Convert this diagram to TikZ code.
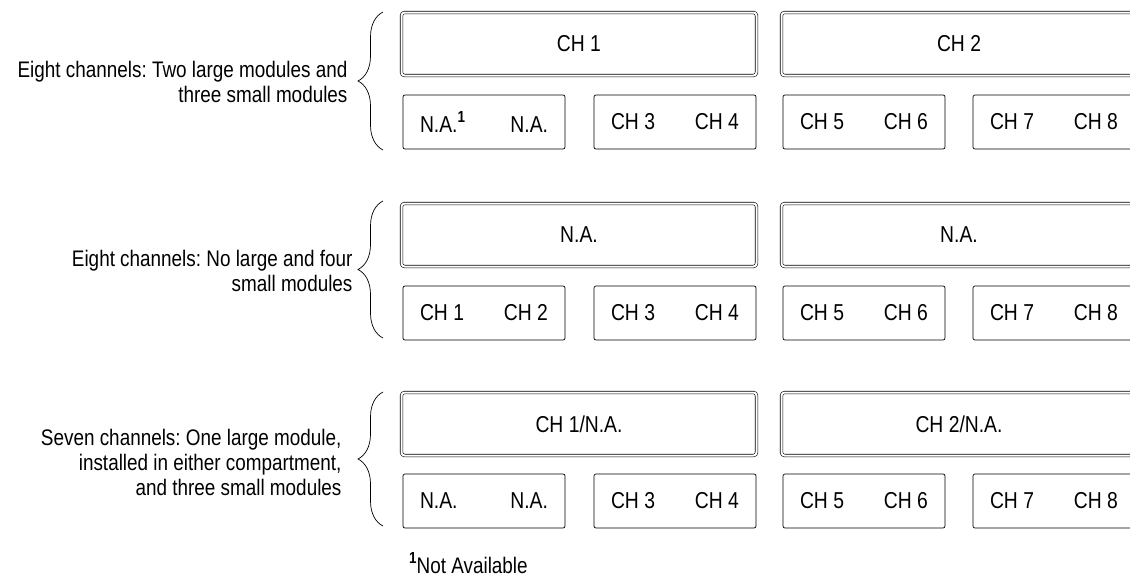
\documentclass[tikz,border=0pt]{standalone}
\usepackage{fontspec}
\setmainfont{Liberation Sans}[FakeStretch=0.84]
\usetikzlibrary{decorations.pathreplacing}
\frenchspacing

% small bold footnote mark
\newcommand{\fnmark}{\raisebox{0.42em}{\fontsize{16}{16}\selectfont\bfseries 1}}

\begin{document}
\begin{tikzpicture}[
        x=1pt, y=-1pt,
        bigmod/.style={draw, double, double distance=2pt, line width=0.6pt, rounded corners=3pt,
            minimum width=355pt, minimum height=63pt, inner sep=0pt, font=\fontsize{23}{26}\selectfont},
        smallmod/.style={draw, line width=0.7pt, rounded corners=2pt,
            minimum width=162pt, minimum height=54pt, inner sep=0pt, font=\fontsize{23}{26}\selectfont},
        grouplabel/.style={anchor=east, align=right, font=\fontsize{22.5}{25}\selectfont},
        groupbrace/.style={decorate, decoration={brace, amplitude=25pt}, line width=0.7pt}
    ]
        \useasboundingbox (0,0) rectangle (1130,576);

        % Eight channels, two large modules
        \node[bigmod] (L1a) at (579,44) {CH 1};
        \node[bigmod] (L1b) at (959,44) {CH 2};
        \node[smallmod] (S1a) at (484,122) {\makebox[128pt]{N.A.\fnmark\hfill N.A.}};
        \node[smallmod] (S1b) at (675,122) {\makebox[128pt]{CH 3\hfill CH 4}};
        \node[smallmod] (S1c) at (864,122) {\makebox[128pt]{CH 5\hfill CH 6}};
        \node[smallmod] (S1d) at (1054,122) {\makebox[128pt]{CH 7\hfill CH 8}};
        \coordinate (B1top) at (383,12);
        \coordinate (B1bot) at (383,150);
        \draw[groupbrace] (B1bot) -- (B1top);
        \node[grouplabel] (G1) at (351,82) {Eight channels: Two large modules and\\three small modules};

        % Eight channels, small modules only
        \node[bigmod] (L2a) at (579,235) {N.A.};
        \node[bigmod] (L2b) at (959,235) {N.A.};
        \node[smallmod] (S2a) at (484,313) {\makebox[128pt]{CH 1\hfill CH 2}};
        \node[smallmod] (S2b) at (675,313) {\makebox[128pt]{CH 3\hfill CH 4}};
        \node[smallmod] (S2c) at (864,313) {\makebox[128pt]{CH 5\hfill CH 6}};
        \node[smallmod] (S2d) at (1054,313) {\makebox[128pt]{CH 7\hfill CH 8}};
        \coordinate (B2top) at (383,201);
        \coordinate (B2bot) at (383,338);
        \draw[groupbrace] (B2bot) -- (B2top);
        \node[grouplabel] (G2) at (356,271) {Eight channels: No large and four\\small modules};

        % Seven channels, one large module
        \node[bigmod] (L3a) at (579,424) {CH 1/N.A.};
        \node[bigmod] (L3b) at (959,424) {CH 2/N.A.};
        \node[smallmod] (S3a) at (484,501) {\makebox[128pt]{N.A.\hfill N.A.}};
        \node[smallmod] (S3b) at (675,501) {\makebox[128pt]{CH 3\hfill CH 4}};
        \node[smallmod] (S3c) at (864,501) {\makebox[128pt]{CH 5\hfill CH 6}};
        \node[smallmod] (S3d) at (1054,501) {\makebox[128pt]{CH 7\hfill CH 8}};
        \coordinate (B3top) at (383,392);
        \coordinate (B3bot) at (383,526);
        \draw[groupbrace] (B3bot) -- (B3top);
        \node[grouplabel] (G3) at (345,462) {Seven channels: One large module,\\installed in either compartment,\\and three small modules};

        \node[anchor=base west, inner sep=0pt, font=\fontsize{22.5}{25}\selectfont] (fnote) at (409,573) {\fnmark Not Available};
    \end{tikzpicture}
\end{document}
